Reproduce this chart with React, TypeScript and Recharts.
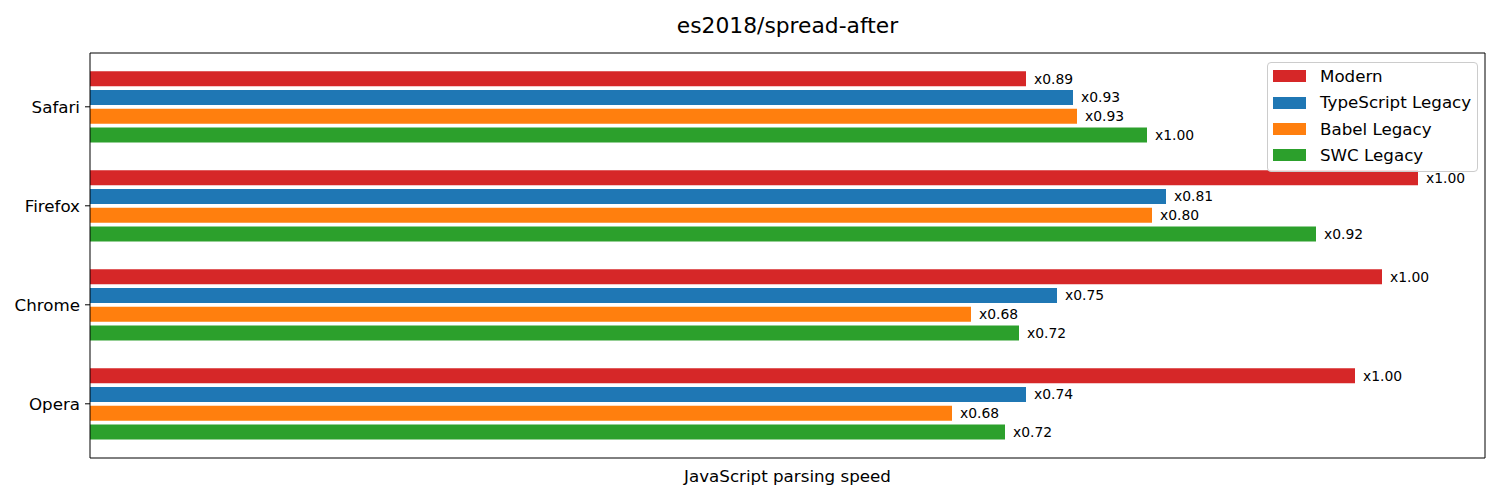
import React from 'react';
import { BarChart, Bar, XAxis, YAxis, Legend, LabelList, Label } from 'recharts';

// raw parsing speed per browser, one array per build
const categories = ['Safari', 'Firefox', 'Chrome', 'Opera'];
const modern = [936, 1328, 1292, 1265];
const typescriptLegacy = [983, 1076, 967, 936];
const babelLegacy = [987, 1062, 881, 862];
const swcLegacy = [1057, 1226, 929, 915];

// ratio labels printed next to each bar
const modernLabels = ['x0.89', 'x1.00', 'x1.00', 'x1.00'];
const typescriptLabels = ['x0.93', 'x0.81', 'x0.75', 'x0.74'];
const babelLabels = ['x0.93', 'x0.80', 'x0.68', 'x0.68'];
const swcLabels = ['x1.00', 'x0.92', 'x0.72', 'x0.72'];

const xMax = 1395;

const series = [
  { key: 'modern', label: 'modernLabel', name: 'Modern', color: '#d62728' },
  { key: 'typescript', label: 'typescriptLabel', name: 'TypeScript Legacy', color: '#1f77b4' },
  { key: 'babel', label: 'babelLabel', name: 'Babel Legacy', color: '#ff7f0e' },
  { key: 'swc', label: 'swcLabel', name: 'SWC Legacy', color: '#2ca02c' },
];

const chartData = categories.map((name, i) => ({
  name,
  modern: modern[i],
  typescript: typescriptLegacy[i],
  babel: babelLegacy[i],
  swc: swcLegacy[i],
  modernLabel: modernLabels[i],
  typescriptLabel: typescriptLabels[i],
  babelLabel: babelLabels[i],
  swcLabel: swcLabels[i],
}));

const FONT = '"DejaVu Sans", sans-serif';

// matplotlib-style legend box, keeps the plotting order (recharts would sort it)
const LegendBox = () => (
  <div
    style={{
      width: 211,
      height: 110,
      boxSizing: 'border-box',
      border: '1px solid #cccccc',
      borderRadius: 4,
      background: 'rgba(255,255,255,0.8)',
      fontFamily: FONT,
    }}
  >
    {series.map((s) => (
      <div key={s.key} style={{ display: 'flex', alignItems: 'center', height: 26.4 }}>
        <span
          style={{
            display: 'inline-block',
            width: 33,
            height: 12,
            background: s.color,
            marginLeft: 5,
            marginRight: 14,
          }}
        />
        <span style={{ fontSize: 16.7, lineHeight: 1, color: '#000' }}>{s.name}</span>
      </div>
    ))}
  </div>
);

export default function App() {
  return (
    <div style={{ position: 'absolute', left: 0, top: 0, width: 1500, height: 500, background: '#fff' }}>
      <BarChart
        width={1500}
        height={500}
        data={chartData}
        layout="vertical"
        margin={{ top: 52, right: 14, bottom: 0, left: 10 }}
        barSize={15}
        barGap={3.7}
        style={{ fontFamily: FONT }}
      >
        <XAxis
          xAxisId="main"
          type="number"
          domain={[0, xMax]}
          allowDataOverflow
          tick={false}
          tickLine={false}
          axisLine={{ stroke: '#000', strokeWidth: 1 }}
          height={42}
        >
          <Label
            value="JavaScript parsing speed"
            position="insideTop"
            offset={12}
            fontSize={16.7}
            fill="#000"
            fontFamily={FONT}
          />
        </XAxis>
        <XAxis
          xAxisId="top"
          orientation="top"
          type="number"
          domain={[0, xMax]}
          allowDataOverflow
          tick={false}
          tickLine={false}
          axisLine={{ stroke: '#000', strokeWidth: 1 }}
          height={1}
        >
          <Label
            value="es2018/spread-after"
            position="top"
            offset={19.5}
            fontSize={21.8}
            fill="#000"
            fontFamily={FONT}
          />
        </XAxis>
        <YAxis
          yAxisId="main"
          type="category"
          dataKey="name"
          width={80}
          padding={{ top: 4.3, bottom: 4.7 }}
          tickSize={5}
          tickMargin={5}
          tick={{ fontSize: 16.7, fill: '#000', fontFamily: FONT }}
          tickLine={{ stroke: '#000' }}
          axisLine={{ stroke: '#000', strokeWidth: 1 }}
        />
        <YAxis
          yAxisId="right"
          orientation="right"
          type="category"
          dataKey="name"
          width={1}
          tick={false}
          tickLine={false}
          axisLine={{ stroke: '#000', strokeWidth: 1 }}
        />
        <Legend
          layout="horizontal"
          verticalAlign="middle"
          align="center"
          wrapperStyle={{ left: 1267, top: 62, width: 211, height: 110 }}
          content={LegendBox}
        />
        {series.map((s) => (
          <Bar
            key={s.key}
            xAxisId="main"
            yAxisId="main"
            dataKey={s.key}
            name={s.name}
            fill={s.color}
            isAnimationActive={false}
          >
            <LabelList
              dataKey={s.label}
              position="right"
              offset={8}
              fontSize={13.9}
              fill="#000"
              fontFamily={FONT}
            />
          </Bar>
        ))}
      </BarChart>
    </div>
  );
}
